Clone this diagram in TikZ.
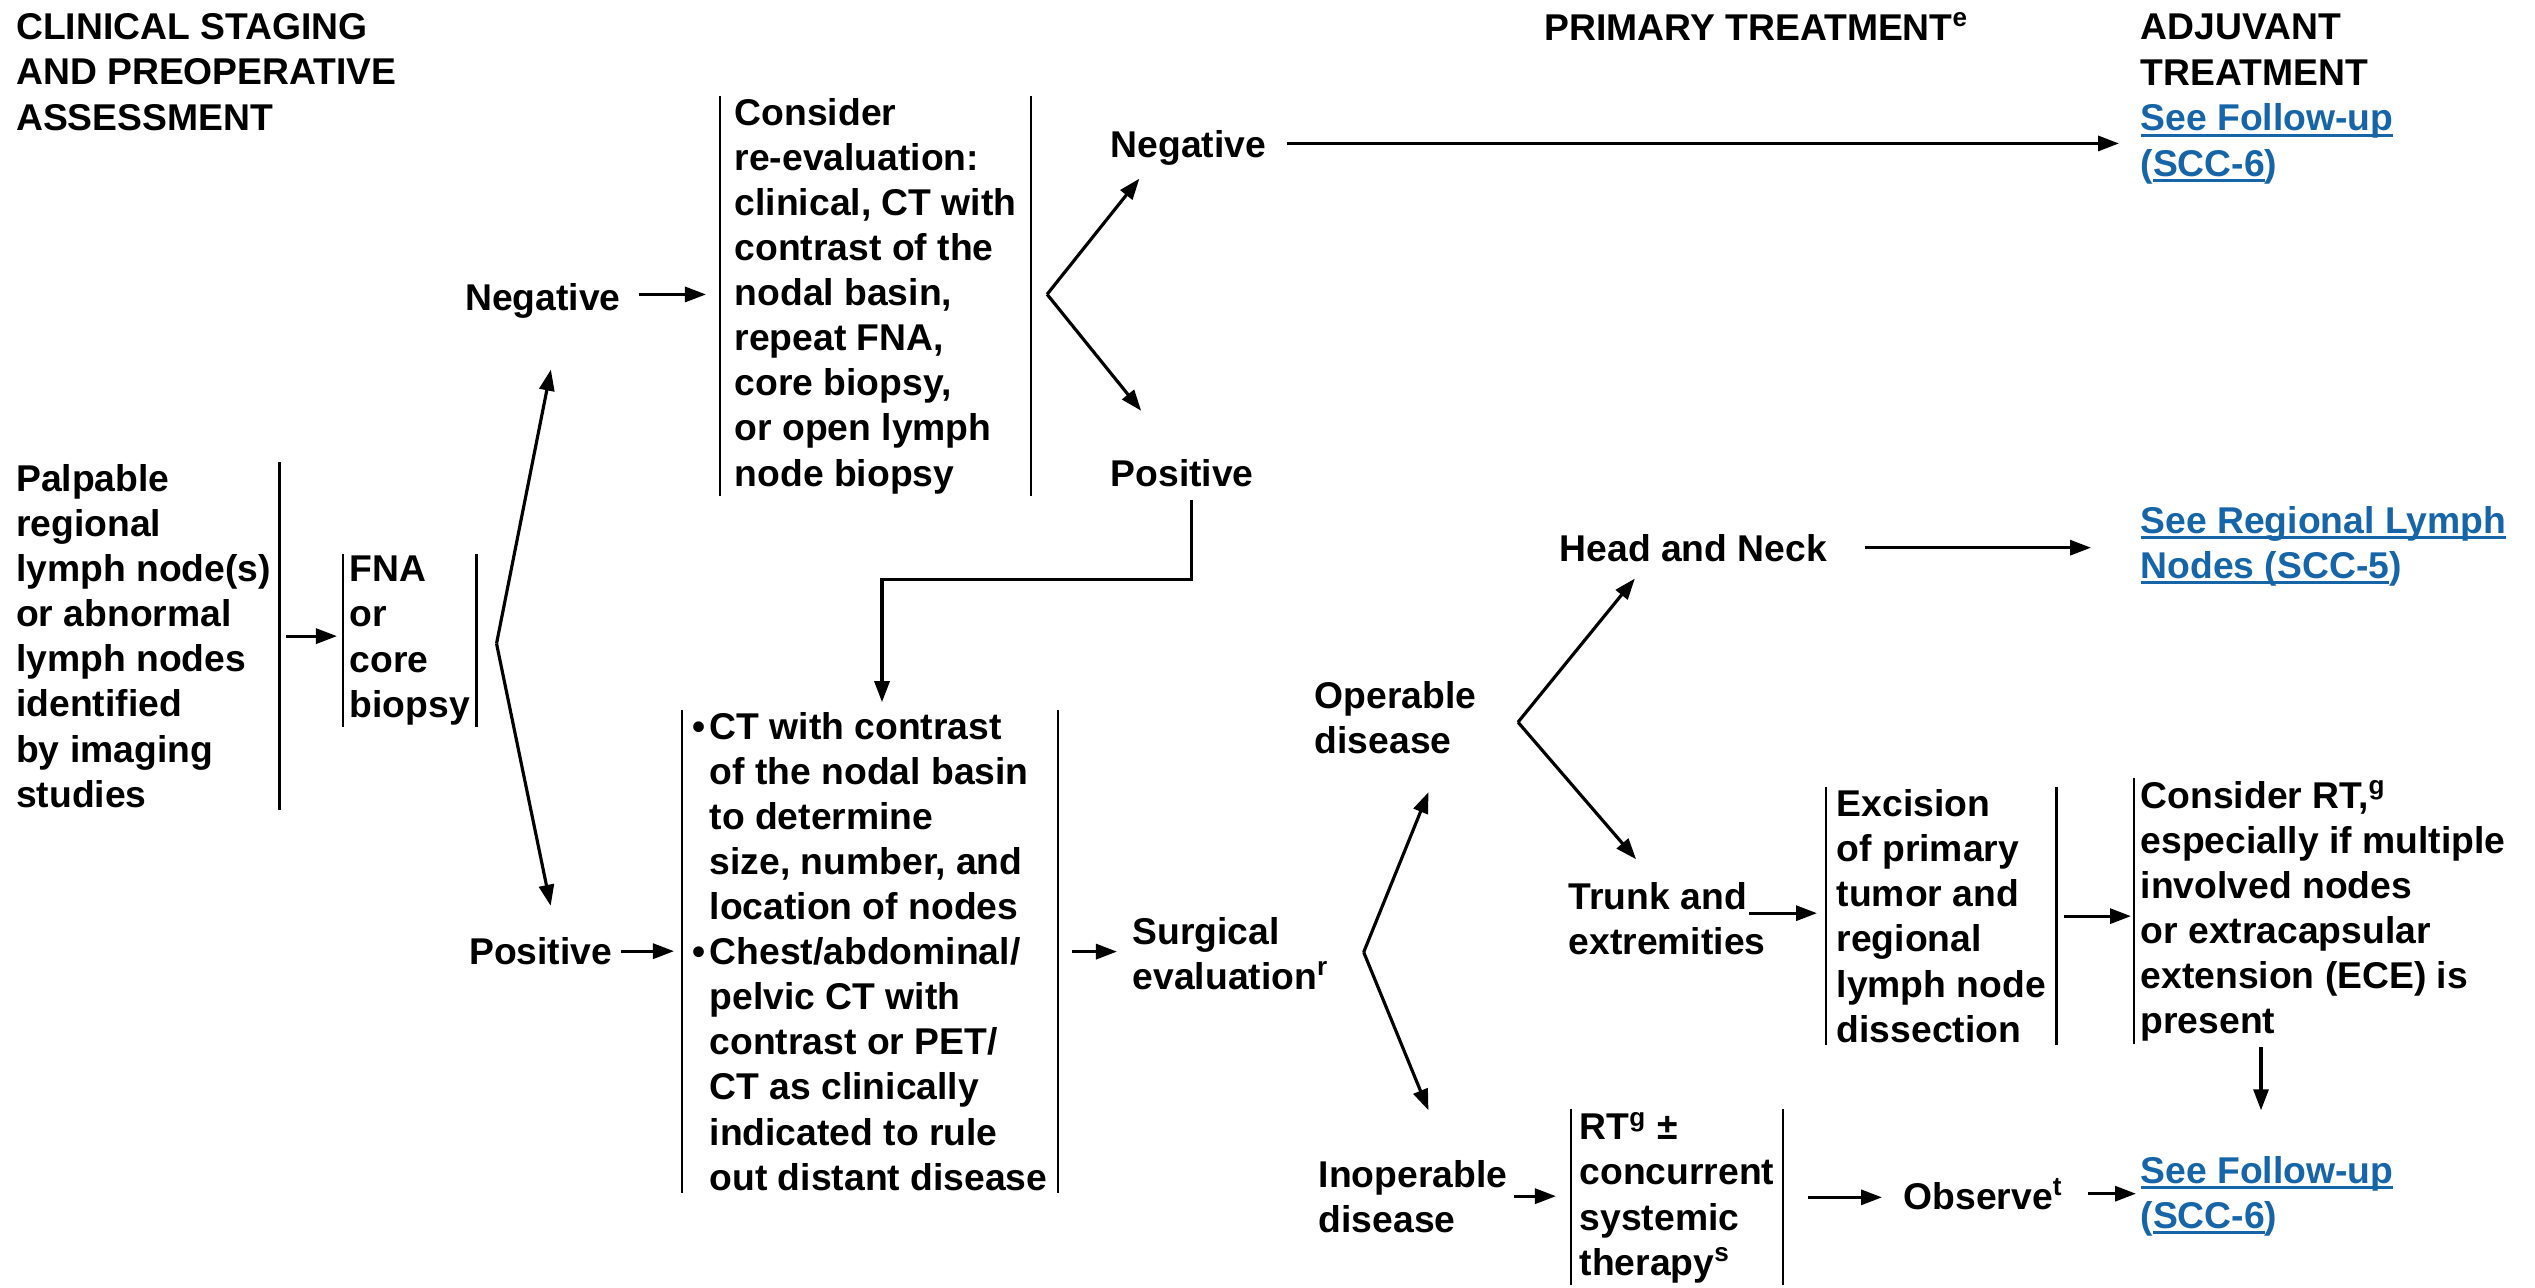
\documentclass[tikz,border=0pt]{standalone}
\usepackage{fontspec}
\setmainfont{Liberation Sans}
\usetikzlibrary{calc,arrows.meta}
\definecolor{linkblue}{RGB}{22,101,168}
\newlength\px
\setlength\px{0.01cm}
\newsavebox\ulbox
\newcommand{\uln}[1]{\sbox\ulbox{#1}\rlap{\rule[-1.6pt]{\wd\ulbox}{0.7pt}}\usebox\ulbox}
\newcommand{\lnk}[1]{\textcolor{linkblue}{#1}}
\newcommand{\fnote}[1]{\textsuperscript{#1}}

% nodes are placed at the baseline of their last line
\tikzset{
  txt/.style={font=\fontsize{10.6}{12.8}\selectfont\bfseries, align=left, inner sep=0pt, anchor=base west},
  barline/.style={line width=0.75pt},
  arr/.style={line width=0.9pt, -{Triangle[length=0.21cm,width=0.15cm]}},
  lbar/.style={append after command={(\tikzlastnode.north west) edge[barline] (\tikzlastnode.south west)}},
  rbar/.style={append after command={(\tikzlastnode.north east) edge[barline] (\tikzlastnode.south east)}},
  box/.style={lbar,rbar,inner ysep=2\px},
}

\begin{document}
\begin{tikzpicture}[x=0.01cm,y=0.01cm,yscale=-1]
\useasboundingbox (0,0) rectangle (2535,1287);

% Text Node
\node[txt] (hdstage) at (15.5,130) {CLINICAL STAGING\\AND PREOPERATIVE\\ASSESSMENT};
% Text Node
\node[txt] (hdprim) at (1544,40) {PRIMARY TREATMENT\fnote{e}};
% Text Node
\node[txt] (hdadj) at (2140,85) {ADJUVANT\\TREATMENT};

% Text Node
\node[txt,rbar,inner xsep=8\px,inner ysep=2\px] (palp) at (7.5,807) {Palpable\\regional\\lymph node(s)\\or abnormal\\lymph nodes\\identified\\by imaging\\studies};
% Text Node
\node[txt,box,inner xsep=6\px] (fna) at (343,717) {FNA\\or\\core\\biopsy};
% Text Node
\node[txt] (neg1) at (464.5,310) {Negative};
% Text Node
\node[txt] (pos1) at (468.5,964.5) {Positive};
% Text Node
\node[txt,box,inner xsep=14\px] (cons) at (720,486) {Consider\\re-evaluation:\\clinical, CT with\\contrast of the\\nodal basin,\\repeat FNA,\\core biopsy,\\or open lymph\\node biopsy};
% Text Node
\node[txt] (neg2) at (1110,157) {Negative};
% Text Node
\node[txt] (pos2) at (1110,486.5) {Positive};
% Text Node
\node[txt] (fu1) at (2140,176) {\lnk{\uln{See Follow-up}}\\\lnk{(\uln{SCC-6})}};
% Text Node
\node[txt,box,inner xsep=10\px] (ct) at (682,1190) {\makebox[17\px][l]{\textbullet}CT with contrast\\\hspace*{17\px}of the nodal basin\\\hspace*{17\px}to determine\\\hspace*{17\px}size, number, and\\\hspace*{17\px}location of nodes\\\makebox[17\px][l]{\textbullet}Chest/abdominal/\\\hspace*{17\px}pelvic CT with\\\hspace*{17\px}contrast or PET/\\\hspace*{17\px}CT as clinically\\\hspace*{17\px}indicated to rule\\\hspace*{17\px}out distant disease};
% Text Node
\node[txt] (surg) at (1132,989) {Surgical\\evaluation\fnote{r}};
% Text Node
\node[txt] (oper) at (1314,753) {Operable\\disease};
% Text Node
\node[txt] (inop) at (1318,1232) {Inoperable\\disease};
% Text Node
\node[txt] (head) at (1559,561) {Head and Neck};
% Text Node
\node[txt] (srl) at (2140,578) {\lnk{\uln{See Regional Lymph}}\\\lnk{\uln{Nodes (SCC-5})}};
% Text Node
\node[txt] (trunk) at (1568,954) {Trunk and\\extremities};
% Text Node
\node[txt,box,inner xsep=10\px] (exc) at (1826,1042) {Excision\\of primary\\tumor and\\regional\\lymph node\\dissection};
% Text Node
\node[txt,lbar,inner xsep=6\px,inner ysep=2\px] (crt) at (2134,1033.5) {Consider RT,\fnote{g}\\especially if multiple\\involved nodes\\or extracapsular\\extension (ECE) is\\present};
% Text Node
\node[txt,box,inner xsep=8\px] (rt) at (1571,1275) {RT\fnote{g} ±\\concurrent\\systemic\\therapy\fnote{s}};
% Text Node
\node[txt] (obs) at (1903,1209) {Observe\fnote{t}};
% Text Node
\node[txt] (fu2) at (2140,1228) {\lnk{\uln{See Follow-up}}\\\lnk{(\uln{SCC-6})}};

% forks
\coordinate (fkfna) at ($(fna.east)+(20,3)$);
\coordinate (fkcons) at ($(cons.east)+(16,-2)$);
\coordinate (fksurg) at ($(surg.east)+(34,-1)$);
\coordinate (fkoper) at ($(oper.east)+(41,5)$);

%Straight Lines
\draw[arr,shorten <=6\px,shorten >=6\px] (palp.east) -- (palp.east -| fna.west);
%Straight Lines
\draw[arr] (fkfna) -- ($(neg1.south)+(8,51)$);
\draw[arr] (fkfna) -- ($(pos1.north)+(10,-31)$);
%Straight Lines
\draw[arr,shorten >=14\px] ($(neg1.east)+(18,-6)$) coordinate (c1) -- (c1 -| cons.west);
\draw[arr,shorten <=8\px,shorten >=8\px] (pos1.east) -- (pos1.east -| ct.west);
%Straight Lines
\draw[arr] (fkcons) -- ($(neg2.south)+(-49,13)$);
\draw[arr] (fkcons) -- ($(pos2.north)+(-41,-48)$);
%Straight Lines
\draw[arr,shorten >=21\px] ($(neg2.east)+(20,-4)$) coordinate (c2) -- (c2 -| fu1.west);
\draw[arr] ($(pos2.south)+(9,12)$) -- ++(0,80) -| ($(ct.north)+(12,-8)$);
%Straight Lines
\draw[arr,shorten <=14\px,shorten >=15\px] (ct.east) -- (ct.east -| surg.west);
\draw[arr] (fksurg) -- ($(oper.south)+(33,38)$);
\draw[arr] (fksurg) -- ($(inop.north)+(15.5,-49)$);
%Straight Lines
\draw[arr] (fkoper) -- ($(head.south)+(-58.5,16.5)$);
\draw[arr] (fkoper) -- ($(trunk.north)+(-31,-22)$);
\draw[arr,shorten <=37\px,shorten >=49\px] (head.east) -- (head.east -| srl.west);
%Straight Lines
\draw[arr,shorten >=9\px] ($(trunk.east)+(-17,-5)$) coordinate (c3) -- (c3 -| exc.west);
\draw[arr,shorten <=7\px,shorten >=3\px] (exc.east) -- (exc.east -| crt.west);
\draw[arr,shorten >=45\px] ($(crt.south)+(-62,3)$) coordinate (c4) -- (c4 |- fu2.north);
%Straight Lines
\draw[arr,shorten <=6\px,shorten >=15\px] (inop.east) -- (inop.east -| rt.west);
\draw[arr,shorten <=25\px,shorten >=21\px] (rt.east) -- (rt.east -| obs.west);
\draw[arr,shorten <=24\px,shorten >=4\px] (obs.east) -- (obs.east -| fu2.west);
\end{tikzpicture}
\end{document}
